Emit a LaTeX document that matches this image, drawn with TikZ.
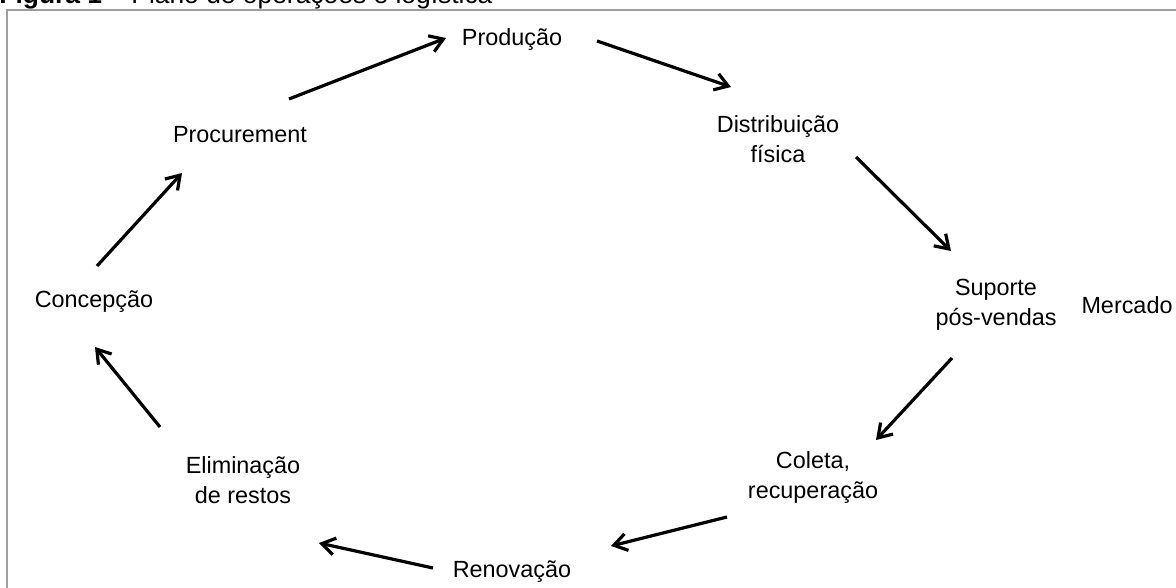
\documentclass[tikz,border=0pt]{standalone}
\usepackage{fontspec}
\setmainfont{Liberation Sans}
\usetikzlibrary{arrows.meta}
\begin{document}
\begin{tikzpicture}[x=0.5pt,y=-0.5pt,
  lbl/.style={font=\fontsize{11.7}{15}\selectfont, align=center, inner sep=0pt, text=black},
  flow/.style={line width=1.6pt, -{Straight Barb[length=6.5pt,width=8.5pt,line width=1.6pt]}}]
\useasboundingbox (0,0) rectangle (1176,588);
\begin{scope}
\clip (0,0) rectangle (1176,588);
% caption, cut by the top of the page
\node[anchor=base west, inner sep=0pt, font=\fontsize{13.2}{15}\selectfont] (cap) at (-1,4)
  {\textbf{Figura 1} – Plano de operações e logística};
% frame
\draw[gray!75, line width=1pt] (7,620) -- (7,10.5) -- (1200,10.5);
\end{scope}

% stages of the cycle
\node[lbl] (prod) at (512,40) {Produção};
\node[lbl] (proc) at (240,135) {Procurement};
\node[lbl] (dist) at (778,139) {Distribuição\\física};
\node[lbl] (sup)  at (996,305) {Suporte\\pós-vendas};
\node[lbl] (merc) at (1127,305) {Mercado};
\node[lbl] (col)  at (813,477) {Coleta,\\recuperação};
\node[lbl] (ren)  at (512,572) {Renovação};
\node[lbl] (elim) at (243,480) {Eliminação\\de restos};
\node[lbl] (conc) at (94,302) {Concepção};

% arrow end points
\coordinate (a1s) at (97,266);  \coordinate (a1e) at (182,173);
\coordinate (a2s) at (289,99);  \coordinate (a2e) at (446,38);
\coordinate (a3s) at (597,41);  \coordinate (a3e) at (731,87);
\coordinate (a4s) at (856,157); \coordinate (a4e) at (951,251);
\coordinate (a5s) at (952,358); \coordinate (a5e) at (876,440);
\coordinate (a6s) at (727,517); \coordinate (a6e) at (611,546);
\coordinate (a7s) at (433,568); \coordinate (a7e) at (319,543);
\coordinate (a8s) at (160,427); \coordinate (a8e) at (95,347);

\draw[flow] (a1s) -- (a1e);
\draw[flow] (a2s) -- (a2e);
\draw[flow] (a3s) -- (a3e);
\draw[flow] (a4s) -- (a4e);
\draw[flow] (a5s) -- (a5e);
\draw[flow] (a6s) -- (a6e);
\draw[flow] (a7s) -- (a7e);
\draw[flow] (a8s) -- (a8e);
\end{tikzpicture}
\end{document}
